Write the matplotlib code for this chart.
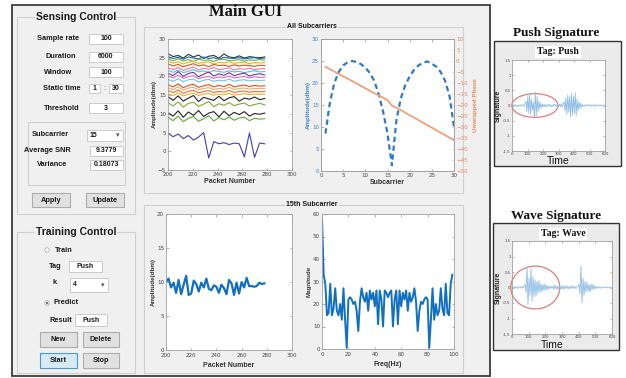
import numpy as np
import matplotlib.pyplot as plt
from matplotlib.patches import Rectangle, Ellipse, Circle

W, H = 626, 378

# ---- data ----
packets = np.linspace(200, 278, 20)
amp_lines = [
    ('#333333', [26.1, 25.3, 25.6, 24.9, 25.9, 25.2, 25.7, 24.8, 25.4, 25.6, 24.9, 26.0, 25.2, 25.0, 25.5, 24.9, 25.3, 25.1, 25.0, 25.2]),
    ('#0072bd', [25.3, 24.8, 25.1, 24.6, 25.2, 24.9, 24.7, 25.2, 24.8, 25.0, 24.6, 25.1, 24.9, 24.8, 25.0, 24.7, 24.9, 25.0, 24.8, 24.9]),
    ('#77ac30', [24.6, 24.2, 24.7, 24.1, 24.5, 24.0, 24.6, 24.3, 24.4, 24.0, 24.5, 24.6, 24.2, 24.3, 24.5, 24.1, 24.4, 24.3, 24.5, 24.3]),
    ('#edb120', [24.0, 23.6, 23.9, 23.3, 23.8, 24.0, 23.5, 23.7, 23.9, 23.3, 23.8, 23.6, 23.9, 23.5, 23.7, 23.8, 23.4, 23.7, 23.6, 23.7]),
    ('#d95319', [23.3, 22.8, 23.2, 22.6, 23.0, 23.4, 22.8, 23.1, 22.6, 23.2, 22.9, 23.0, 22.7, 23.1, 22.8, 23.0, 22.9, 22.7, 23.0, 22.9]),
    ('#e87d9c', [22.3, 21.8, 22.4, 21.6, 22.1, 22.5, 21.7, 22.2, 21.9, 22.4, 21.8, 22.0, 22.3, 21.7, 22.1, 21.9, 22.2, 21.8, 22.0, 22.1]),
    ('#4dbeee', [21.6, 21.1, 21.7, 21.0, 21.4, 21.8, 21.2, 21.5, 21.0, 21.6, 21.3, 21.1, 21.5, 21.2, 21.4, 21.0, 21.3, 21.5, 21.2, 21.3]),
    ('#7e2f8e', [20.9, 20.2, 21.3, 20.0, 20.8, 21.1, 19.9, 20.6, 21.2, 20.1, 20.7, 20.3, 21.0, 20.2, 20.6, 20.9, 20.1, 20.5, 20.7, 20.4]),
    ('#d36bd0', [20.1, 19.6, 20.3, 19.5, 19.9, 20.2, 19.4, 19.8, 20.0, 19.5, 19.9, 19.7, 20.1, 19.6, 19.8, 20.0, 19.6, 19.9, 19.7, 19.8]),
    ('#6cc6ee', [19.2, 18.7, 19.4, 18.6, 19.1, 19.3, 18.5, 19.0, 19.2, 18.7, 19.0, 18.8, 19.3, 18.7, 19.0, 19.1, 18.8, 19.0, 18.9, 19.0]),
    ('#d95319', [17.8, 17.2, 18.0, 17.0, 17.6, 17.9, 17.1, 17.5, 17.8, 17.2, 17.6, 17.3, 17.9, 17.2, 17.5, 17.7, 17.3, 17.6, 17.4, 17.5]),
    ('#f2a86a', [17.0, 16.5, 17.2, 16.3, 16.9, 17.1, 16.4, 16.8, 17.0, 16.5, 16.8, 16.6, 17.1, 16.5, 16.8, 16.9, 16.6, 16.8, 16.7, 16.8]),
    ('#e2723f', [16.2, 15.7, 16.4, 15.5, 16.0, 16.3, 15.6, 16.0, 16.2, 15.7, 16.0, 15.8, 16.3, 15.7, 16.0, 16.1, 15.8, 16.0, 15.9, 16.0]),
    ('#edb120', [15.4, 14.9, 15.6, 14.8, 15.2, 15.5, 14.9, 15.3, 15.4, 15.0, 15.3, 15.1, 15.5, 15.0, 15.2, 15.4, 15.1, 15.3, 15.2, 15.3]),
    ('#222222', [14.6, 13.6, 14.8, 13.4, 14.2, 14.9, 13.3, 14.4, 14.0, 13.6, 14.7, 13.5, 14.3, 14.6, 13.4, 14.2, 13.9, 14.5, 13.8, 14.1]),
    ('#77ac30', [13.0, 12.1, 13.2, 11.8, 12.8, 13.1, 12.0, 12.6, 13.3, 11.9, 12.7, 12.3, 13.0, 12.2, 12.6, 12.9, 12.1, 12.5, 12.8, 12.4]),
    ('#222222', [10.3, 9.4, 10.8, 9.1, 10.5, 9.6, 10.9, 9.3, 10.2, 10.6, 9.2, 10.7, 9.5, 10.4, 9.8, 10.6, 9.4, 10.1, 9.9, 10.2]),
    ('#5da832', [9.1, 8.2, 9.4, 7.9, 8.8, 9.3, 8.0, 8.7, 9.5, 8.1, 9.0, 8.4, 9.2, 8.3, 8.9, 9.1, 8.2, 8.8, 8.6, 8.7]),
    ('#3f3fb8', [4.8, 3.9, 4.6, 3.4, 4.2, 3.0, 3.8, 5.0, -1.8, 2.6, 2.0, 2.3, 1.8, 2.2, 2.0, -1.5, 4.9, -1.6, 2.2, 2.0]),
]

subcarriers = np.arange(1, 31)
avg_amp = [8.5, 15.5, 20.0, 22.5, 24.0, 24.7, 25.0, 24.8, 24.3, 23.5, 22.3, 20.5, 17.5, 13.5, 8.5,
           1.3, 11.5, 16.5, 19.5, 21.5, 23.0, 24.0, 24.6, 24.9, 24.4, 23.7, 22.5, 20.5, 17.0, 10.0]
phase = [-2.6, -3.7, -4.8, -5.9, -7.0, -8.0, -9.1, -10.2, -11.3, -12.4, -13.5, -14.6, -15.6, -16.7, -17.8,
         -20.3, -21.2, -22.3, -23.5, -24.6, -25.7, -26.9, -28.0, -29.2, -30.3, -31.4, -32.6, -33.7, -34.9, -36.0]

packets15 = np.arange(200, 280, 2)
amp15 = [10.0, 10.5, 9.2, 9.9, 8.4, 10.3, 8.2, 9.6, 10.9, 8.1, 8.3, 10.2, 9.7, 8.6, 9.9, 9.2, 10.5, 9.0, 8.8, 9.5,
         9.3, 8.4, 9.6, 9.1, 8.2, 10.3, 9.8, 8.1, 9.9, 8.3, 10.0, 9.2, 10.6, 9.4, 9.4, 9.3, 9.4, 9.9, 9.7, 9.8]

freq = np.arange(0, 100, 1.25)
fft_mag = [58, 33, 29, 15, 16, 29, 15, 18, 27, 17, 15, 20, 13, 27, 13, 0.5, 22, 23, 22, 20,
           21, 17, 8, 21, 27, 23, 21, 25, 17, 26, 22, 25, 19, 26, 11, 26, 22, 10, 26, 25,
           23, 25, 26, 10, 22, 26, 11, 26, 19, 25, 22, 26, 17, 25, 21, 23, 27, 21, 8, 17,
           21, 20, 22, 23, 22, 0.5, 13, 27, 13, 20, 15, 17, 27, 18, 15, 29, 16, 15, 29, 33]

sig_t = np.arange(0, 601, 6)
push_sig = [0, 0.02, -0.01, 0.03, -0.02, 0.01, -0.03, 0.02, 0, -0.02, 0.03, -0.01, 0.02, -0.03, 0.04,
            0.15, -0.2, 0.3, -0.25, 0.38, -0.3, 0.2, -0.15, 0.1, -0.42, 0.45, -0.35, 0.3, -0.2, 0.15, -0.12, 0.08, -0.06,
            0.05, -0.04, 0.03, -0.05, 0.02, -0.03, 0.04, -0.02, 0.03, -0.04, 0.02, -0.03, 0.05, -0.02, 0.03, -0.04,
            0.02, -0.03, 0.04, -0.05, 0.06, -0.04, 0.05,
            0.12, -0.18, 0.25, -0.3, 0.35, -0.22, 0.28, -0.38, 0.4, -0.32, 0.3, -0.25, 0.42, -0.35, 0.22, -0.18,
            0.12, -0.1, 0.08, -0.06,
            0.03, -0.02, 0.02, -0.03, 0.01, 0.02, -0.02, 0.03, -0.01, 0.02, -0.03, 0.01, 0.02, -0.02, 0.03,
            -0.02, 0.01, 0.02, -0.01, 0.02, -0.02, 0.01, 0.02, -0.01, 0]
wave_sig = [0, 0.02, -0.02, 0.03, -0.01, 0.02, -0.03, 0.01, 0.02, -0.02, 0.03, -0.02, 0.04,
            0.1, -0.15, 0.65, -0.55, 0.3, -0.25, 0.6, -0.45,
            0.35, -0.3, 0.25, -0.28, 0.2, -0.18, 0.22, -0.15, 0.12, -0.14, 0.1, -0.08, 0.12, -0.1, 0.07, -0.06, 0.05, -0.04,
            0.04, -0.03, 0.05, -0.06, 0.08, -0.05, 0.04, -0.07, 0.06, -0.04, 0.03, -0.05, 0.07, -0.06, 0.04,
            -0.03, 0.05, -0.04, 0.03, -0.05, 0.06, -0.03, 0.04, -0.02, 0.03, -0.04, 0.02, 0.03,
            0.1, -0.2, 0.7, -0.5,
            0.3, -0.25, 0.2, -0.15, 0.18, -0.12, 0.1, -0.15, 0.12, -0.08, 0.1, -0.06, 0.05, -0.04, 0.03,
            -0.02, 0.02, -0.03, 0.01, 0.02, -0.02, 0.01, 0.02, -0.01, 0.02, -0.02, 0.01, 0.01, -0.01, 0]

# ---- figure / GUI canvas in pixel coords ----
fig = plt.figure(figsize=(W / 100, H / 100), dpi=100)
fig.patch.set_facecolor('white')
bg = fig.add_axes([0, 0, 1, 1])
bg.set_xlim(0, W)
bg.set_ylim(H, 0)
bg.axis('off')

SANS = 'Liberation Sans'
SERIF = 'Liberation Serif'
GUI_BG = '#f0f0f0'


def box(x0, y0, x1, y1, fc='none', ec='#d0d0d0', lw=0.8, z=1):
    bg.add_patch(Rectangle((x0, y0), x1 - x0, y1 - y0, facecolor=fc, edgecolor=ec, linewidth=lw, zorder=z))


def txt(x, y, s, size=5.3, weight='bold', color='#1a1a1a', ha='center', family=SANS, **kw):
    bg.text(x, y, s, fontsize=size, fontweight=weight, color=color, ha=ha, va='center',
            family=family, zorder=5, **kw)


def panel(x0, y0, x1, y1, title=None, tx=None, size=7.5):
    box(x0, y0, x1, y1)
    if title:
        txt((x0 + x1) / 2 if tx is None else tx, y0, title, size=size,
            bbox=dict(facecolor=GUI_BG, edgecolor='none', pad=0.8))


def edit(x0, y0, x1, y1, s):
    box(x0, y0, x1, y1, fc='white', ec='#c4c4c4', lw=0.6, z=2)
    txt((x0 + x1) / 2, (y0 + y1) / 2, s, size=5)


def popup(x0, y0, x1, y1, s):
    box(x0, y0, x1, y1, fc='white', ec='#c4c4c4', lw=0.6, z=2)
    txt(x0 + 3, (y0 + y1) / 2, s, size=5, ha='left')
    txt(x1 - 5, (y0 + y1) / 2, '\u25be', size=5, family='DejaVu Sans', color='#555555')


def button(x0, y0, x1, y1, s, fc='#e1e1e1', ec='#adadad'):
    box(x0, y0, x1, y1, fc=fc, ec=ec, lw=0.8, z=2)
    txt((x0 + x1) / 2, (y0 + y1) / 2, s, size=5.3)


def radio(x, y, on):
    bg.add_patch(Circle((x, y), 2.2, facecolor='white', edgecolor='#b0b0b0', linewidth=0.6, zorder=3))
    if on:
        bg.add_patch(Circle((x, y), 1.2, facecolor='#6a7c94', edgecolor='none', zorder=4))


# main window
box(12, 5, 490, 376, fc=GUI_BG, ec='#3c3c3c', lw=1.3, z=0)
txt(246, 12, 'Main GUI', size=12, family=SERIF, color='#111111')

# sensing control
panel(17, 17, 135, 214, 'Sensing Control')
txt(58, 39, 'Sample rate'); edit(89, 34, 123, 44, '100')
txt(61, 57, 'Duration'); edit(89, 52, 123, 62, '6000')
txt(58, 72, 'Window'); edit(89, 67, 123, 77, '100')
txt(62, 88, 'Static time'); edit(89, 84, 100, 93, '1')
txt(104.5, 88, ':', color='#888888'); edit(109, 84, 123, 93, '30')
txt(62, 108, 'Threshold'); edit(89, 103, 123, 113, '3')
panel(28, 122, 125, 185)
txt(50, 135, 'Subcarrier'); popup(87, 130, 123, 141, '15')
txt(47, 151, 'Average SNR'); edit(90, 146, 123, 156, '9.3779')
txt(52, 165, 'Variance'); edit(90, 160, 123, 170, '0.18073')
button(32, 193, 70, 207, 'Apply')
button(86, 193, 124, 207, 'Update')

# training control
panel(17, 232, 135, 373, 'Training Control')
radio(47, 250, False); txt(64, 250, 'Train')
txt(55, 267, 'Tag'); edit(69, 261, 102, 272, 'Push')
txt(55, 283, 'k'); popup(70, 278, 108, 292, '4')
radio(47, 303, True); txt(66, 303, 'Predict')
txt(61, 320, 'Result'); edit(75, 314, 107, 326, 'Push')
button(40, 332, 77, 347, 'New'); button(83, 332, 119, 347, 'Delete')
button(40, 353, 77, 368, 'Start', fc='#d7eaf8', ec='#4a9ad8'); button(83, 353, 119, 368, 'Stop')

# plot panels
panel(144, 27, 463, 193, 'All Subcarriers', tx=312, size=5)
panel(144, 205, 463, 373, '15th Subcarrier', tx=312, size=5)

# signature boxes
txt(556, 33, 'Push Signature', size=9.5, family=SERIF, color='#111111')
box(494, 41, 621, 166, fc='#ebebeb', ec='#333333', lw=1.0)
txt(558, 52, 'Tag: Push', size=7, family=SERIF, color='#111111',
    bbox=dict(facecolor='white', edgecolor='none', pad=1.2))
txt(558, 160.5, 'Time', size=7.5, weight='normal', color='#111111')
txt(556, 216, 'Wave Signature', size=9.5, family=SERIF, color='#111111')
box(493, 223, 619, 350, fc='#ebebeb', ec='#333333', lw=1.0)
txt(563, 234, 'Tag: Wave', size=7, family=SERIF, color='#111111',
    bbox=dict(facecolor='white', edgecolor='none', pad=1.2))
txt(552, 344.5, 'Time', size=7.5, weight='normal', color='#111111')


def ax_at(x0, y0, x1, y1):
    return fig.add_axes([x0 / W, 1 - y1 / H, (x1 - x0) / W, (y1 - y0) / H])


def matlab(ax, fs=4):
    ax.set_facecolor('white')
    ax.tick_params(direction='in', length=1.8, width=0.4, labelsize=fs, color='#777777',
                   labelcolor='#444444', pad=1.5, top=True, right=True)
    for s in ax.spines.values():
        s.set_color('#a0a0a0')
        s.set_linewidth(0.6)


def lab(ax, xl, yl, fs=5, pad=1):
    ax.set_xlabel(xl, fontsize=fs, fontweight='bold', family=SANS, color='#333333', labelpad=pad)
    ax.set_ylabel(yl, fontsize=fs - 0.5, fontweight='bold', family=SANS, color='#333333', labelpad=pad)


# all subcarriers amplitude
ax1 = ax_at(168, 39, 292, 170)
matlab(ax1)
for c, v in amp_lines:
    ax1.plot(packets, v, color=c, linewidth=0.8)
ax1.set_xlim(200, 300)
ax1.set_ylim(-5, 30)
ax1.set_xticks(range(200, 301, 20))
ax1.set_yticks(range(-5, 31, 5))
lab(ax1, 'Packet Number', 'Amplitude(dbm)')

# amplitude / phase across subcarriers
ax2 = ax_at(321, 39, 454, 171)
matlab(ax2)
ax2.tick_params(axis='y', right=False, labelcolor='#3d85c6')
ax2.plot(subcarriers, avg_amp, color='#2f7bc4', linewidth=1.6, linestyle=(0, (2.4, 1.6)))
ax2.set_xlim(0, 30)
ax2.set_ylim(0, 30)
ax2.set_xticks(range(0, 31, 5))
ax2.set_yticks(range(0, 31, 5))
lab(ax2, 'Subcarrier', 'Amplitude(dbm)')
ax2.yaxis.label.set_color('#3d85c6')
ax2b = ax2.twinx()
ax2b.plot(subcarriers, phase, color='#f0a07a', linewidth=1.3)
ax2b.set_ylim(-50, 10)
ax2b.set_yticks(range(-50, 11, 5))
ax2b.tick_params(direction='in', length=1.8, width=0.4, labelsize=4, color='#e8a080',
                 labelcolor='#e8895c', pad=1.5)
for s in ax2b.spines.values():
    s.set_color('#a0a0a0')
    s.set_linewidth(0.6)
ax2b.set_ylabel('Unwrapped Phase', fontsize=4.5, fontweight='bold', family=SANS, color='#e8895c', labelpad=4)

# 15th subcarrier amplitude
ax3 = ax_at(166, 214, 292, 350)
matlab(ax3)
ax3.tick_params(axis='x', pad=2.5)
ax3.plot(packets15, amp15, color='#1170c0', linewidth=1.6)
ax3.set_xlim(200, 300)
ax3.set_ylim(0, 20)
ax3.set_xticks(range(200, 301, 20))
ax3.set_yticks(range(0, 21, 5))
lab(ax3, 'Packet Number', 'Amplitude(dbm)')
ax3.xaxis.labelpad = 2.5

# spectrum
ax4 = ax_at(322, 214, 454, 349)
matlab(ax4)
ax4.tick_params(axis='x', pad=2.5)
ax4.plot(freq, fft_mag, color='#1170c0', linewidth=1.4)
ax4.set_xlim(0, 100)
ax4.set_ylim(0, 60)
ax4.set_xticks(range(0, 101, 20))
ax4.set_yticks(range(0, 61, 10))
lab(ax4, 'Freq(Hz)', 'Magnitude')
ax4.xaxis.labelpad = 2.5


def sig_ax(x0, y0, x1, y1, sig, ell):
    ax = ax_at(x0, y0, x1, y1)
    matlab(ax, fs=2.8)
    ax.tick_params(length=1.2, pad=1)
    ax.plot(sig_t, sig, color='#8fbde6', linewidth=0.6)
    ax.set_xlim(0, 600)
    ax.set_ylim(-1.5, 1.5)
    ax.set_xticks(range(0, 601, 100))
    ax.set_yticks([-1.5, -1, -0.5, 0, 0.5, 1, 1.5])
    ax.set_yticklabels(['-1.5', '-1', '-0.5', '0', '0.5', '1', '1.5'])
    ax.set_ylabel('Signature', fontsize=5, fontweight='bold', family=SANS, color='#222222', labelpad=1)
    ax.add_patch(Ellipse(ell[:2], ell[2], ell[3], fill=False, edgecolor='#e07c7c', linewidth=0.9, clip_on=False))
    return ax


sig_ax(512, 60, 605, 151, push_sig, (148, 0, 297, 0.78))
sig_ax(512, 241, 612, 334, wave_sig, (140, 0, 294, 1.38))

fig.savefig('out.png', dpi=100)
